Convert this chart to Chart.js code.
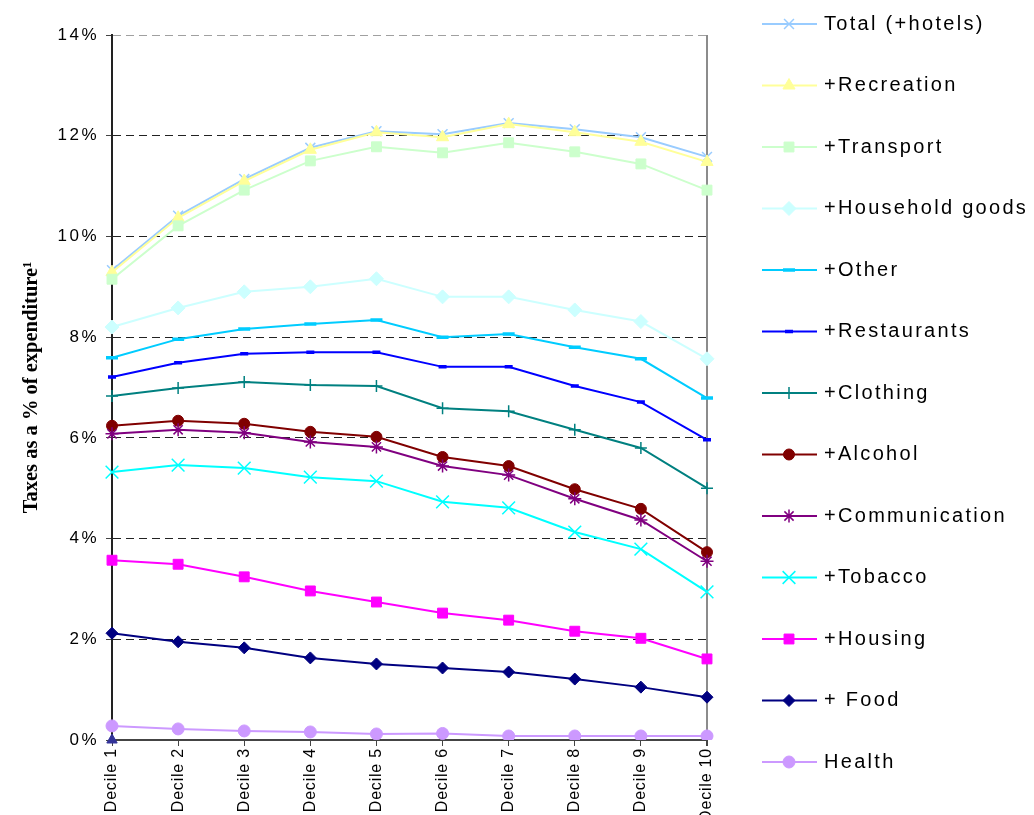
<!DOCTYPE html>
<html>
<head>
<meta charset="utf-8">
<script src="https://cdn.jsdelivr.net/npm/chart.js@4/dist/chart.umd.min.js"></script>
<style>
  html, body { margin: 0; padding: 0; background: #ffffff; }
  #wrap { width: 1034px; height: 815px; position: relative; }
</style>
</head>
<body>
<div id="wrap"><canvas id="chart"></canvas></div>
<script>
// Income deciles on the x axis
const deciles = ['Decile 1', 'Decile 2', 'Decile 3', 'Decile 4', 'Decile 5',
                 'Decile 6', 'Decile 7', 'Decile 8', 'Decile 9', 'Decile 10'];

// Cumulative indirect taxes as a % of expenditure, one array per added category
const total         = [9.33, 10.41, 11.14, 11.76, 12.09, 12.03, 12.25, 12.13, 11.97, 11.58];
const recreation    = [9.29, 10.37, 11.10, 11.72, 12.07, 11.97, 12.23, 12.07, 11.88, 11.48];
const transport     = [9.15, 10.21, 10.92, 11.50, 11.78, 11.66, 11.86, 11.68, 11.44, 10.92];
const household     = [8.20, 8.58, 8.90, 9.00, 9.16, 8.80, 8.80, 8.54, 8.31, 7.57];
const other         = [7.59, 7.96, 8.16, 8.26, 8.34, 8.00, 8.06, 7.80, 7.57, 6.79];
const restaurants   = [7.21, 7.49, 7.67, 7.70, 7.70, 7.41, 7.41, 7.03, 6.71, 5.96];
const clothing      = [6.83, 6.99, 7.11, 7.05, 7.03, 6.59, 6.53, 6.16, 5.80, 5.00];
const alcohol       = [6.24, 6.34, 6.28, 6.12, 6.02, 5.62, 5.44, 4.98, 4.59, 3.73];
const communication = [6.08, 6.16, 6.10, 5.92, 5.82, 5.44, 5.26, 4.79, 4.37, 3.55];
const tobacco       = [5.32, 5.46, 5.40, 5.22, 5.14, 4.73, 4.61, 4.13, 3.79, 2.94];
const housing       = [3.57, 3.49, 3.24, 2.96, 2.74, 2.52, 2.38, 2.16, 2.02, 1.61];
const food          = [2.12, 1.95, 1.83, 1.63, 1.51, 1.43, 1.35, 1.21, 1.05, 0.85];
const health        = [0.28, 0.22, 0.18, 0.16, 0.12, 0.13, 0.08, 0.08, 0.08, 0.08];
// lone marker sitting on the axis at the first decile
const baseline      = [0, null, null, null, null, null, null, null, null, null];

// Y axis range and tick step (percent)
const yMin = 0, yMax = 14, yStep = 2;

const seriesNames = ['Total (+hotels)', '+Recreation', '+Transport', '+Household goods', '+Other',
                     '+Restaurants', '+Clothing', '+Alcohol', '+Communication', '+Tobacco',
                     '+Housing', '+ Food', 'Health'];
const seriesValues = [total, recreation, transport, household, other, restaurants, clothing,
                      alcohol, communication, tobacco, housing, food, health];

// Line and marker styling for each series
const seriesStyles = [
  { color: '#99CCFF', point: 'crossRot', radius: 7,   pointWidth: 1.5 },
  { color: '#FFFF99', point: 'triangle', radius: 7,   pointWidth: 1 },
  { color: '#CCFFCC', point: 'rect',     radius: 7,   pointWidth: 1 },
  { color: '#CCFFFF', point: 'rectRot',  radius: 7,   pointWidth: 1 },
  { color: '#00CCFF', point: 'line',     radius: 6,   pointWidth: 3.5 },
  { color: '#0000FF', point: 'line',     radius: 4,   pointWidth: 3.5 },
  { color: '#008080', point: 'cross',    radius: 6,   pointWidth: 1.5 },
  { color: '#800000', point: 'circle',   radius: 5.5, pointWidth: 1 },
  { color: '#800080', point: 'star',     radius: 6.5, pointWidth: 1.5 },
  { color: '#00FFFF', point: 'crossRot', radius: 9,   pointWidth: 1.5 },
  { color: '#FF00FF', point: 'rect',     radius: 7,   pointWidth: 1 },
  { color: '#000080', point: 'rectRot',  radius: 6,   pointWidth: 1 },
  { color: '#CC99FF', point: 'circle',   radius: 6,   pointWidth: 1 }
];

const datasets = seriesNames.map((name, i) => {
  const st = seriesStyles[i];
  return {
    label: name,
    data: seriesValues[i],
    order: seriesNames.length - i,
    borderColor: st.color,
    backgroundColor: st.color,
    borderWidth: 2,
    pointStyle: st.point,
    pointRadius: st.radius,
    pointBackgroundColor: st.color,
    pointBorderColor: st.color,
    pointBorderWidth: st.pointWidth,
    tension: 0,
    fill: false
  };
});
datasets.push({
  label: '',
  data: baseline,
  order: 0,
  borderColor: '#333399',
  backgroundColor: '#333399',
  borderWidth: 0,
  showLine: false,
  pointStyle: 'triangle',
  pointRadius: 6,
  pointBackgroundColor: '#333399',
  pointBorderColor: '#333399',
  pointBorderWidth: 1,
  clip: false
});

// Letter spacing: legend text uses the default, individual scale parts their own
const LETTER_SPACING = '2.3px';
const scaleSpacing = [
  { axis: 'y', method: 'drawTitle',  spacing: '0px' },
  { axis: 'y', method: 'drawLabels', spacing: '2.5px' },
  { axis: 'x', method: 'drawLabels', spacing: '0.8px' }
];
const textSpacing = {
  id: 'textSpacing',
  beforeLayout(chart) { chart.ctx.letterSpacing = LETTER_SPACING; },
  beforeDraw(chart) {
    const ctx = chart.ctx;
    ctx.letterSpacing = LETTER_SPACING;
    scaleSpacing.forEach(({ axis, method, spacing }) => {
      const scale = chart.scales[axis];
      const flag = '_spaced_' + method;
      if (!scale || scale[flag]) return;
      const orig = scale[method];
      scale[method] = function (...args) {
        const prev = ctx.letterSpacing;
        ctx.letterSpacing = spacing;
        orig.apply(this, args);
        ctx.letterSpacing = prev;
      };
      scale[flag] = true;
    });
  }
};

// Legend samples: a short line with the series marker in its middle
const legendSamples = {
  id: 'legendSamples',
  afterDraw(chart) {
    const legend = chart.legend;
    if (!legend || !legend.legendItems) return;
    const ctx = chart.ctx;
    const labelOpts = legend.options.labels;
    const fontSize = Chart.helpers.toFont(labelOpts.font).size;
    legend.legendItems.forEach((item, i) => {
      const hb = legend.legendHitBoxes[i];
      const ds = chart.data.datasets[item.datasetIndex];
      const textX = hb.left + labelOpts.boxWidth + fontSize / 2;
      const y = hb.top + hb.height / 2;
      ctx.save();
      ctx.setLineDash([]);
      ctx.strokeStyle = ds.borderColor;
      ctx.lineWidth = ds.borderWidth;
      ctx.beginPath();
      ctx.moveTo(textX - 62, y);
      ctx.lineTo(textX - 7, y);
      ctx.stroke();
      ctx.fillStyle = ds.pointBackgroundColor;
      ctx.strokeStyle = ds.pointBorderColor;
      ctx.lineWidth = ds.pointBorderWidth;
      Chart.helpers.drawPoint(ctx, {
        pointStyle: ds.pointStyle, radius: ds.pointRadius, rotation: 0, borderWidth: ds.pointBorderWidth
      }, textX - 35, y);
      ctx.restore();
    });
  }
};

Chart.defaults.font.family = "'Liberation Sans', Arial, sans-serif";
Chart.defaults.color = '#000000';

new Chart(document.getElementById('chart'), {
  type: 'line',
  data: { labels: deciles, datasets },
  plugins: [textSpacing, legendSamples],
  options: {
    responsive: true,
    maintainAspectRatio: false,
    animation: false,
    devicePixelRatio: 1,
    events: [],
    layout: { padding: { left: 0, top: 0, bottom: 0, right: -8 } },
    plugins: {
      tooltip: { enabled: false },
      legend: {
        position: 'right',
        align: 'start',
        reverse: true,
        maxWidth: 600,
        labels: {
          font: { size: 20 },
          color: '#000000',
          boxWidth: 120.5,
          boxHeight: 75,
          padding: -13.5,
          generateLabels(chart) {
            const items = Chart.defaults.plugins.legend.labels.generateLabels(chart);
            return items
              .filter(it => chart.data.datasets[it.datasetIndex].label)
              .map(it => Object.assign(it, {
                fillStyle: 'rgba(0,0,0,0)', strokeStyle: 'rgba(0,0,0,0)', lineWidth: 0
              }));
          }
        }
      }
    },
    scales: {
      x: {
        offset: false,
        grid: {
          color: ctx => ctx.index === deciles.length - 1 ? '#8c8c8c' : 'rgba(0,0,0,0)',
          lineWidth: ctx => ctx.index === deciles.length - 1 ? 2 : 1,
          tickColor: '#444444',
          tickLength: 6,
          offset: false
        },
        border: { color: '#444444', width: 2 },
        ticks: {
          autoSkip: false,
          minRotation: 90,
          maxRotation: 90,
          padding: 2,
          font: { size: 16 },
          color: '#000000'
        },
        afterFit(scale) {
          scale.height = 75;
          scale.paddingRight = 327;
        }
      },
      y: {
        min: yMin,
        max: yMax,
        ticks: {
          stepSize: yStep,
          padding: 7,
          font: { size: 17 },
          color: '#000000',
          callback: v => v + '%'
        },
        grid: {
          color: ctx => {
            const v = ctx.tick ? ctx.tick.value : null;
            if (v === yMin) return 'rgba(0,0,0,0)';
            if (v === yMax) return '#a0a0a0';
            return '#222222';
          },
          lineWidth: 1,
          tickColor: '#444444',
          tickLength: 6
        },
        border: { color: '#222222', width: 2, dash: [8, 5] },
        title: {
          display: true,
          text: 'Taxes as a % of expenditure¹',
          font: { family: "'Liberation Serif', 'Times New Roman', serif", size: 20.5, weight: 'bold' },
          color: '#000000',
          padding: { top: 19, bottom: 0 }
        },
        afterFit(scale) {
          scale.width = 112;
          scale.paddingTop = 35;
        }
      }
    }
  }
});
</script>
</body>
</html>
